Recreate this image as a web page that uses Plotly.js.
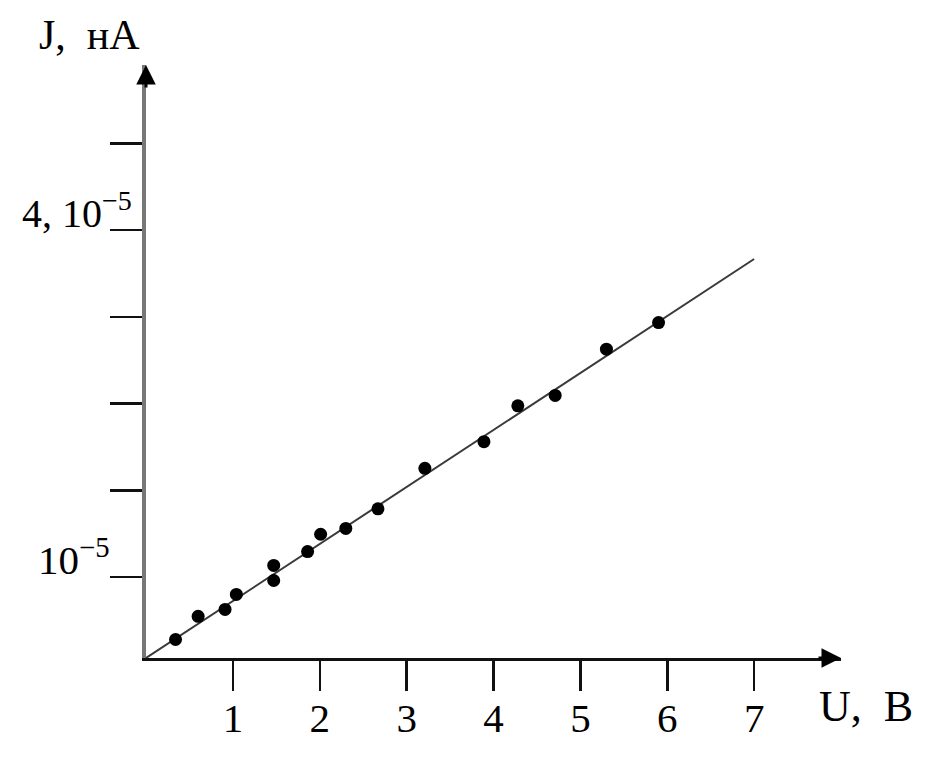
<!DOCTYPE html>
<html>
<head>
<meta charset="utf-8">
<script src="https://cdn.plot.ly/plotly-3.0.1.min.js"></script>
<style>
  html, body { margin: 0; padding: 0; background: #fff; }
  #chart { width: 945px; height: 773px; }
</style>
</head>
<body>
<div id="chart"></div>
<script>
// ---- data (U in volts, J in units of 10^-5 nA as labelled) ----
const pointsU = [0.34, 0.60, 0.91, 1.04, 1.47, 1.47, 1.86, 2.01, 2.30, 2.67, 3.21, 3.89, 4.28, 4.71, 5.30, 5.90];
const pointsJ = [0.46, 0.66, 0.72, 0.85, 1.10, 0.97, 1.22, 1.37, 1.42, 1.59, 1.94, 2.17, 2.48, 2.57, 2.97, 3.20];
const lineU = [0, 7];
const lineJ = [0.30, 3.75];

const xTickVals = [1, 2, 3, 4, 5, 6, 7];
const xTickText = ['1', '2', '3', '4', '5', '6', '7'];
const yTickVals = [1, 1.75, 2.5, 3.25, 4, 4.75];
const yTickText = ['10<sup>−5</sup>', '', '', '', '4, 10<sup>−5</sup>', ''];

const xTitle = 'U,  B';
const yTitle = 'J,  нА';

// ---- layout / styling ----
const xRange = [0, 8];
const yRange = [0.30, 5.427];
const serif = 'Liberation Serif, Times New Roman, serif';
const yLabelStyle = [
  { size: 41, xshift: -34, yshift: 20 },
  null, null, null,
  { size: 40, xshift: -12, yshift: 20 },
  null
];

const traces = [
  {
    x: lineU, y: lineJ, type: 'scatter', mode: 'lines',
    line: { color: '#3a3a3a', width: 2 },
    hoverinfo: 'skip', showlegend: false
  },
  {
    x: pointsU, y: pointsJ, type: 'scatter', mode: 'markers',
    marker: { color: '#000', size: 13 },
    showlegend: false, cliponaxis: false
  }
];

const annotations = [];
yTickVals.forEach((v, i) => {
  if (!yTickText[i]) return;
  const st = yLabelStyle[i];
  annotations.push({
    xref: 'paper', yref: 'y', x: 0, y: v,
    xanchor: 'right', yanchor: 'middle',
    xshift: st.xshift, yshift: st.yshift,
    text: yTickText[i], showarrow: false,
    font: { family: serif, size: st.size, color: '#000' }
  });
});
// axis titles
annotations.push({
  xref: 'paper', yref: 'paper', x: -0.0806, y: 1.05,
  xanchor: 'center', yanchor: 'middle',
  text: yTitle, showarrow: false,
  font: { family: serif, size: 42, color: '#000' }
});
annotations.push({
  xref: 'paper', yref: 'paper', x: 1.036, y: -0.0826,
  xanchor: 'center', yanchor: 'middle',
  text: xTitle, showarrow: false,
  font: { family: serif, size: 44, color: '#000' }
});
// arrowheads
annotations.push({
  xref: 'x', yref: 'y', x: xRange[1], y: yRange[0], ax: -24, ay: 0,
  text: '', showarrow: true, arrowhead: 2, arrowsize: 1.3, arrowwidth: 3,
  arrowcolor: '#000', standoff: 0
});
annotations.push({
  xref: 'x', yref: 'y', x: xRange[0], y: yRange[1], ax: 0, ay: 24,
  text: '', showarrow: true, arrowhead: 2, arrowsize: 1.3, arrowwidth: 3,
  arrowcolor: '#000', standoff: 0
});

const layout = {
  width: 945, height: 773,
  margin: { l: 146, r: 104, t: 65, b: 115, pad: 0 },
  paper_bgcolor: '#fff', plot_bgcolor: '#fff',
  showlegend: false,
  xaxis: {
    range: xRange, showgrid: false, zeroline: false,
    showline: true, linecolor: '#111', linewidth: 3,
    ticks: 'outside', ticklen: 30, tickwidth: 2.5, tickcolor: '#111',
    tickvals: xTickVals, ticktext: xTickText,
    ticklabelstandoff: -8,
    tickfont: { family: serif, size: 41, color: '#000' },
    fixedrange: true
  },
  yaxis: {
    range: yRange, showgrid: false, zeroline: false,
    showline: true, linecolor: '#777', linewidth: 4,
    ticks: 'outside', ticklen: 32, tickwidth: 2.5, tickcolor: '#111',
    tickvals: yTickVals, ticktext: yTickText, showticklabels: false,
    fixedrange: true
  },
  annotations: annotations
};

Plotly.newPlot('chart', traces, layout, { displayModeBar: false, staticPlot: true });
</script>
</body>
</html>
